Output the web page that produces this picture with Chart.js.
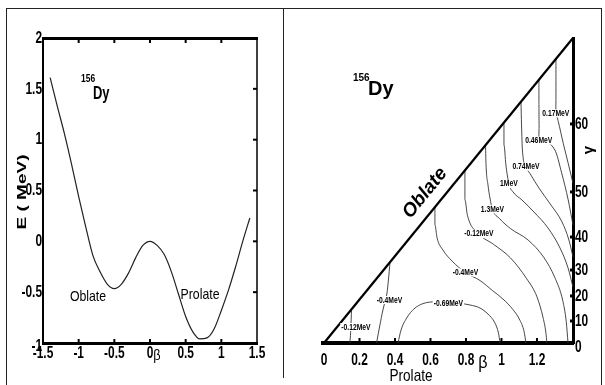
<!DOCTYPE html>
<html><head><meta charset="utf-8">
<script src="https://cdn.jsdelivr.net/npm/chart.js@4/dist/chart.umd.min.js"></script>
<style>
html,body{margin:0;padding:0;background:#fff;}
#wrap{position:relative;width:605px;height:385px;overflow:hidden;background:#fff;}
canvas{position:absolute;top:0;}
#c1{left:0;} #c2{left:283px;}
#frame{position:absolute;left:6px;top:8px;width:596px;height:400px;border:1px solid #222;border-bottom:none;box-sizing:border-box;}
#divider{position:absolute;left:283px;top:8px;width:1px;height:370px;background:#222;}
</style></head><body>
<div id="wrap">
<div id="frame"></div><div id="divider"></div>
<canvas id="c1" width="283" height="385"></canvas>
<canvas id="c2" width="322" height="385"></canvas>
</div>
<script>
// ---------- left panel data: E(beta) ----------
const betaValues   = [-1.4,-1.3,-1.2,-1.1,-1.0,-0.9,-0.8,-0.7,-0.6,-0.5,-0.4,-0.3,-0.2,-0.1,0,0.1,0.2,0.3,0.4,0.5,0.6,0.7,0.8,0.9,1.0,1.1,1.2,1.3,1.4];
const energyValues = [1.61,1.33,1.06,0.76,0.44,0.14,-0.14,-0.30,-0.42,-0.465,-0.42,-0.31,-0.16,-0.04,0,-0.04,-0.13,-0.30,-0.52,-0.74,-0.89,-0.96,-0.95,-0.86,-0.68,-0.48,-0.25,0.0,0.23];
const leftXTicks = [-1.5,-1,-0.5,0,0.5,1,1.5];
const leftYTicks = [-1,-0.5,0,0.5,1,1.5,2];

// ---------- right panel data: contours in the (beta x, beta y) plane ----------
const betaTicks = [0,0.2,0.4,0.6,0.8,1,1.2];
const gammaTickLabels = [0,10,20,30,40,50,60];
const gammaTickValues = [0,0.124,0.265,0.411,0.597,0.851,1.234];
const oblateEdge = [[0,0],[1.403,1.718]];
const contourLevels = ['-0.12MeV','-0.4MeV','-0.69MeV','-0.4MeV','-0.12MeV','1.3MeV','1MeV','0.74MeV','0.46MeV','0.17MeV'];
const contourM012a = [[0.155,0.190],[0.153,0.130],[0.150,0.060],[0.146,0]];
const contourM04a  = [[0.372,0.455],[0.363,0.355],[0.355,0.282],[0.343,0.230],[0.332,0.186],[0.315,0.101],[0.296,0]];
const contourM069  = [[0.417,0],[0.434,0.073],[0.466,0.141],[0.507,0.192],[0.558,0.222],[0.63,0.232],[0.701,0.230],[0.823,0.214],[0.879,0.197],[0.924,0.163],[0.963,0.113],[0.983,0.056],[0.992,0]];
const contourM04b  = [[0.625,0.766],[0.625,0.665],[0.637,0.592],[0.670,0.524],[0.721,0.462],[0.797,0.397],[0.879,0.352],[0.950,0.295],[1.008,0.248],[1.065,0.188],[1.104,0.128],[1.127,0.066],[1.138,0]];
const contourM012b = [[0.794,0.973],[0.794,0.806],[0.808,0.720],[0.873,0.614],[0.955,0.556],[1.050,0.480],[1.140,0.365],[1.200,0.260],[1.235,0.140],[1.250,0.060],[1.256,0]];
const contourP13   = [[0.910,1.114],[0.913,1.003],[0.924,0.890],[0.935,0.817],[0.949,0.753],[0.990,0.700],[1.050,0.645],[1.150,0.580],[1.240,0.480],[1.300,0.370],[1.345,0.240],[1.365,0.120],[1.375,0]];
const contourP10   = [[1.014,1.242],[1.014,1.115],[1.025,1.003],[1.042,0.896],[1.065,0.851],[1.115,0.806],[1.183,0.738],[1.262,0.648],[1.330,0.535],[1.375,0.423],[1.403,0.315]];
const contourP074  = [[1.110,1.359],[1.113,1.228],[1.118,1.087],[1.138,0.993],[1.166,0.946],[1.211,0.873],[1.279,0.777],[1.341,0.682],[1.380,0.580],[1.403,0.485]];
const contourP046  = [[1.211,1.483],[1.211,1.341],[1.212,1.211],[1.210,1.140],[1.301,1.087],[1.339,0.958],[1.376,0.806],[1.403,0.665]];
const contourP017  = [[1.307,1.600],[1.307,1.482],[1.307,1.369],[1.306,1.294],[1.320,1.247],[1.348,1.125],[1.376,1.012],[1.403,0.900]];
const contourLabelAt = [[0.180,0.090],[0.369,0.242],[0.701,0.224],[0.797,0.397],[0.873,0.614],[0.949,0.753],[1.042,0.896],[1.138,0.993],[1.210,1.140],[1.306,1.294]];

// ---------- fonts / helpers ----------
const SANS = "'Liberation Sans', Arial, sans-serif";
const TICKFONT = 'bold 17px ' + SANS;
const TICKSX = 0.7;
function txt(ctx,s,x,y,font,o){o=o||{};ctx.save();ctx.translate(x,y);if(o.rot)ctx.rotate(o.rot);ctx.scale(o.sx||1,o.sy||1);ctx.font=font;ctx.fillStyle=o.color||'#000';ctx.textAlign=o.align||'center';ctx.textBaseline=o.base||'middle';ctx.fillText(s,0,0);ctx.restore();}
function pts(a){return a.map(p=>({x:p[0],y:p[1]}));}
const hiddenTicks={display:false};

// ---------- left chart ----------
const leftDeco={id:'leftDeco',afterDraw(ch){
  const ctx=ch.ctx,a=ch.chartArea,xs=ch.scales.x,ys=ch.scales.y;
  ctx.save();ctx.strokeStyle='#000';
  ctx.lineWidth=3;ctx.beginPath();ctx.moveTo(a.left-1,a.top+0.5);ctx.lineTo(a.right+1,a.top+0.5);ctx.stroke();
  ctx.lineWidth=1.5;ctx.beginPath();ctx.moveTo(a.right,a.top);ctx.lineTo(a.right,a.bottom);ctx.stroke();
  ctx.lineWidth=2;
  leftXTicks.slice(1,-1).forEach(v=>{const p=xs.getPixelForValue(v);ctx.beginPath();ctx.moveTo(p,a.top);ctx.lineTo(p,a.top+5);ctx.moveTo(p,a.bottom);ctx.lineTo(p,a.bottom-4);ctx.stroke();});
  leftYTicks.slice(1,-1).forEach(v=>{const p=ys.getPixelForValue(v);ctx.beginPath();ctx.moveTo(a.right,p);ctx.lineTo(a.right-4,p);ctx.stroke();});
  ctx.restore();
  // tick labels from the scales
  xs.ticks.forEach((t,i)=>txt(ctx,String(leftXTicks[i]),xs.getPixelForValue(t.value),a.bottom+10,TICKFONT,{sx:TICKSX}));
  ys.ticks.forEach((t,i)=>txt(ctx,String(leftYTicks[i]),a.left-1,ys.getPixelForValue(t.value)+(i===0?3:0),TICKFONT,{sx:TICKSX,align:'right'}));
  txt(ctx,'156',81,79,'bold 10px '+SANS,{align:'left',sx:0.85});
  txt(ctx,'Dy',93,94,'bold 18px '+SANS,{align:'left',sx:0.72});
  txt(ctx,'Oblate',88,297,'15px '+SANS,{sx:0.82});
  txt(ctx,'Prolate',200,295,'15px '+SANS,{sx:0.82});
  txt(ctx,'\u03b2',157,356,'15px '+SANS,{sx:0.85});
  txt(ctx,'E ( MeV)',22,192,'bold 19px '+SANS,{rot:-Math.PI/2,sy:0.7});
}};
new Chart(document.getElementById('c1'),{
  type:'line',
  data:{datasets:[{data:betaValues.map((b,i)=>({x:b,y:energyValues[i]})),borderColor:'#222',borderWidth:1.2,pointRadius:0,cubicInterpolationMode:'monotone',clip:4}]},
  options:{responsive:false,animation:false,events:[],
    layout:{padding:{left:3,right:26,top:38,bottom:0}},
    plugins:{legend:{display:false},tooltip:{enabled:false}},
    scales:{
      x:{type:'linear',min:-1.5,max:1.5,afterBuildTicks:s=>{s.ticks=leftXTicks.map(v=>({value:v}));},afterFit:s=>{s.height=42;},
         grid:{display:false},border:{display:true,width:3,color:'#000'},ticks:hiddenTicks},
      y:{type:'linear',min:-1,max:2,afterBuildTicks:s=>{s.ticks=leftYTicks.map(v=>({value:v}));},afterFit:s=>{s.width=40;},
         grid:{display:false},border:{display:true,width:2,color:'#000'},ticks:hiddenTicks}
    }},
  plugins:[leftDeco]
});

// ---------- right chart ----------
const contourPaths=[contourM012a,contourM04a,contourM069,contourM04b,contourM012b,contourP13,contourP10,contourP074,contourP046,contourP017];
const rightDeco={id:'rightDeco',
 afterDatasetsDraw(ch){
  const ctx=ch.ctx,xs=ch.scales.x,ys=ch.scales.y;
  ctx.save();
  const f='bold 9px '+SANS;
  contourLevels.forEach((lab,i)=>{
    const px=xs.getPixelForValue(contourLabelAt[i][0]),py=ys.getPixelForValue(contourLabelAt[i][1]);
    ctx.font=f;const w=ctx.measureText(lab).width*0.75;
    ctx.fillStyle='#fff';ctx.fillRect(px-w/2-1,py-4,w+2,8);
    txt(ctx,lab,px,py,f,{sx:0.75});
  });
  ctx.restore();
 },
 afterDraw(ch){
  const ctx=ch.ctx,a=ch.chartArea,xs=ch.scales.x,ys=ch.scales.y;
  ctx.save();ctx.fillStyle='#000';
  betaTicks.slice(1).forEach(v=>{const p=xs.getPixelForValue(v);ctx.fillRect(p-1,a.bottom-5,2,5);});
  gammaTickValues.slice(1).forEach(v=>{const p=ys.getPixelForValue(v);ctx.fillRect(a.right-3,p-1.5,3,3);});
  ctx.fillRect(a.left-3,a.bottom-2,4,4);
  ctx.restore();
  xs.ticks.forEach((t,i)=>txt(ctx,String(betaTicks[i]),xs.getPixelForValue(t.value),a.bottom+17,TICKFONT,{sx:TICKSX}));
  ys.ticks.forEach((t,i)=>txt(ctx,String(gammaTickLabels[i]),a.right+2,ys.getPixelForValue(t.value)+(i===0?4:0),TICKFONT,{sx:TICKSX,align:'left'}));
  txt(ctx,'156',70,78,'bold 10px '+SANS,{align:'left'});
  txt(ctx,'Dy',85,89,'bold 20px '+SANS,{align:'left'});
  txt(ctx,'Oblate',142,193,'bold italic 19px '+SANS,{rot:-51*Math.PI/180});
  txt(ctx,'Prolate',128,376,'17px '+SANS,{sx:0.8});
  txt(ctx,'\u03b2',200,363,'19px '+SANS,{sx:0.85});
  txt(ctx,'\u03b3',306,150,'bold 15px '+SANS,{rot:-Math.PI/2});
 }};
const rightSets=[{data:pts(oblateEdge),borderColor:'#000',borderWidth:2.2}].concat(contourPaths.map(c=>({data:pts(c),borderColor:'#333',borderWidth:0.9,cubicInterpolationMode:'monotone'})));
rightSets.forEach(d=>{d.showLine=true;d.pointRadius=0;d.fill=false;d.clip=4;d.tension=d.cubicInterpolationMode?0.4:0;});
new Chart(document.getElementById('c2'),{
  type:'scatter',
  data:{datasets:rightSets},
  options:{responsive:false,animation:false,events:[],
    layout:{padding:{left:41,right:0,top:38,bottom:0}},
    plugins:{legend:{display:false},tooltip:{enabled:false}},
    scales:{
      x:{type:'linear',min:0,max:1.403,afterBuildTicks:s=>{s.ticks=betaTicks.map(v=>({value:v}));},afterFit:s=>{s.height=42;},
         grid:{display:false},border:{display:true,width:4,color:'#000'},ticks:hiddenTicks},
      y:{type:'linear',position:'right',min:0,max:1.718,afterBuildTicks:s=>{s.ticks=gammaTickValues.map(v=>({value:v}));},afterFit:s=>{s.width=32;},
         grid:{display:false},border:{display:true,width:3,color:'#000'},ticks:hiddenTicks}
    }},
  plugins:[rightDeco]
});
</script>
</body></html>
